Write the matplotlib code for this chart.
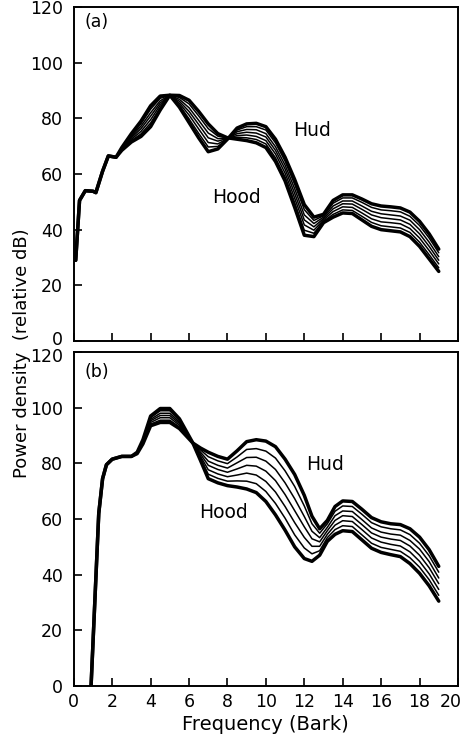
import matplotlib
matplotlib.use("Agg")
import matplotlib.pyplot as plt
from matplotlib.transforms import ScaledTranslation

# ---- panel (a): frequency grid (Bark) and the 7 spectra, Hud -> Hood ----
bark_a = [0.1, 0.3, 0.6, 1.0, 1.15, 1.5, 1.8, 2.2, 2.5, 3.0, 3.5, 4.0, 4.5, 5.0,
          5.5, 6.0, 6.5, 7.0, 7.5, 8.0, 8.5, 9.0, 9.5, 10.0, 10.5, 11.0, 11.5,
          12.0, 12.5, 13.0, 13.5, 14.0, 14.5, 15.0, 15.5, 16.0, 16.5, 17.0,
          17.5, 18.0, 18.5, 19.0]
hud_a = [29, 50.5, 54, 53.8, 53.3, 61, 66.5, 66, 68.5, 71.5, 73.5, 77, 83, 88.3,
         84, 78.5, 73, 68, 69, 72.5, 76.5, 78, 78.2, 77, 72.5, 66, 58,
         49, 44.5, 45.5, 50.5, 52.5, 52.5, 51, 49.3, 48.5, 48.2, 47.8,
         46.3, 43, 38.5, 33]
mid_a1 = [29, 50.5, 54, 53.8, 53.3, 61, 66.5, 66, 68.7, 72.0, 74.4, 78.3, 83.8, 88.3,
          84.7, 79.8, 74.6, 69.7, 69.9, 72.6, 75.8, 77.0, 77.0, 75.8, 71.2, 64.6, 56.3,
          47.2, 43.3, 45.0, 49.5, 51.4, 51.4, 49.8, 48.0, 47.1, 46.8, 46.4,
          44.8, 41.5, 37.0, 31.7]
mid_a2 = [29, 50.5, 54, 53.8, 53.3, 61, 66.5, 66, 68.8, 72.5, 75.3, 79.5, 84.7, 88.3,
          85.4, 81.2, 76.2, 71.3, 70.8, 72.7, 75.2, 76.0, 75.9, 74.5, 69.8, 63.2, 54.7,
          45.3, 42.2, 44.5, 48.5, 50.3, 50.3, 48.5, 46.6, 45.7, 45.3, 44.9,
          43.4, 40.0, 35.5, 30.3]
mid_a3 = [29, 50.5, 54, 53.8, 53.3, 61, 66.5, 66, 69.0, 73.0, 76.3, 80.8, 85.5, 88.3,
          86.1, 82.5, 77.8, 73.0, 71.8, 72.8, 74.5, 75.0, 74.7, 73.3, 68.5, 61.8, 53.0,
          43.5, 41.0, 44.0, 47.5, 49.3, 49.2, 47.3, 45.3, 44.3, 43.9, 43.5,
          41.9, 38.5, 34.0, 29.0]
mid_a4 = [29, 50.5, 54, 53.8, 53.3, 61, 66.5, 66, 69.2, 73.5, 77.2, 82.0, 86.3, 88.3,
          86.8, 83.8, 79.3, 74.7, 72.7, 72.8, 73.8, 74.0, 73.5, 72.0, 67.2, 60.3, 51.3,
          41.7, 39.8, 43.5, 46.5, 48.2, 48.0, 46.0, 43.9, 42.8, 42.5, 42.1,
          40.4, 37.0, 32.5, 27.7]
mid_a5 = [29, 50.5, 54, 53.8, 53.3, 61, 66.5, 66, 69.3, 74.0, 78.1, 83.3, 87.2, 88.3,
          87.5, 85.2, 80.9, 76.3, 73.6, 72.9, 73.2, 73.0, 72.4, 70.8, 65.8, 58.9, 49.7,
          39.8, 38.7, 43.0, 45.5, 47.1, 46.9, 44.8, 42.6, 41.4, 41.0, 40.6,
          39.0, 35.5, 31.0, 26.3]
hood_a = [29, 50.5, 54, 53.8, 53.3, 61, 66.5, 66, 69.5, 74.5, 79, 84.5, 88, 88.3,
          88.2, 86.5, 82.5, 78, 74.5, 73, 72.5, 72, 71.2, 69.5, 64.5, 57.5, 48,
          38, 37.5, 42.5, 44.5, 46, 45.8, 43.5, 41.2, 40, 39.6, 39.2,
          37.5, 34, 29.5, 25]

# ---- panel (b) ----
bark_b = [0.9, 1.3, 1.5, 1.7, 2.0, 2.5, 3.0, 3.3, 3.6, 4.0, 4.5, 5.0, 5.5, 6.2,
          6.6, 7.0, 7.5, 8.0, 8.5, 9.0, 9.5, 10.0, 10.5, 11.0, 11.5, 12.0, 12.4,
          12.8, 13.2, 13.6, 14.0, 14.5, 15.0, 15.5, 16.0, 16.5, 17.0, 17.5,
          18.0, 18.5, 19.0]
hud_b = [0, 62, 74.5, 79.5, 81.5, 82.5, 82.5, 84, 88.5, 97, 99.7, 99.7, 96, 87.3,
         85.5, 84, 82.5, 81.5, 84.5, 87.8, 88.5, 88.0, 86, 81.5, 76, 68.5, 61,
         56.5, 59.5, 64.5, 66.5, 66.3, 63.5, 60.5, 59, 58.3, 58, 56.5,
         53.5, 49, 43]
mid_b1 = [0, 62, 74.5, 79.5, 81.5, 82.5, 82.5, 83.9, 88.3, 96.4, 98.9, 98.9, 95.4, 87.3,
          84.8, 82.4, 80.9, 79.9, 82.3, 85.0, 85.3, 84.4, 81.9, 77.3, 71.7, 64.7, 58.3,
          54.9, 58.3, 62.8, 64.7, 64.5, 61.7, 58.7, 57.2, 56.5, 56.1, 54.4,
          51.3, 46.8, 40.9]
mid_b2 = [0, 62, 74.5, 79.5, 81.5, 82.5, 82.5, 83.8, 88.0, 95.8, 98.0, 98.0, 94.8, 87.3,
          84.0, 80.8, 79.3, 78.3, 80.2, 82.1, 82.2, 80.8, 77.8, 73.0, 67.3, 60.9, 55.6,
          53.3, 57.0, 61.2, 62.9, 62.7, 59.8, 56.8, 55.3, 54.6, 54.2, 52.3,
          49.2, 44.7, 38.8]
mid_b3 = [0, 62, 74.5, 79.5, 81.5, 82.5, 82.5, 83.8, 87.8, 95.3, 97.2, 97.2, 94.3, 87.3,
          83.3, 79.3, 77.8, 76.8, 78.0, 79.3, 79.0, 77.2, 73.8, 68.8, 63.0, 57.2, 52.9,
          51.8, 55.8, 59.5, 61.2, 60.9, 58.0, 55.0, 53.5, 52.8, 52.3, 50.3,
          47.0, 42.5, 36.8]
mid_b4 = [0, 62, 74.5, 79.5, 81.5, 82.5, 82.5, 83.7, 87.5, 94.7, 96.4, 96.4, 93.7, 87.3,
          82.5, 77.7, 76.2, 75.2, 75.8, 76.5, 75.8, 73.5, 69.7, 64.5, 58.7, 53.4, 50.2,
          50.2, 54.5, 57.8, 59.4, 59.1, 56.2, 53.2, 51.7, 50.9, 50.3, 48.2,
          44.8, 40.3, 34.7]
mid_b5 = [0, 62, 74.5, 79.5, 81.5, 82.5, 82.5, 83.6, 87.3, 94.1, 95.5, 95.5, 93.1, 87.3,
          81.8, 76.1, 74.6, 73.6, 73.7, 73.6, 72.7, 69.9, 65.6, 60.3, 54.3, 49.6, 47.5,
          48.6, 53.3, 56.2, 57.6, 57.3, 54.3, 51.3, 49.8, 49.1, 48.4, 46.1,
          42.7, 38.2, 32.6]
hood_b = [0, 62, 74.5, 79.5, 81.5, 82.5, 82.5, 83.5, 87, 93.5, 94.7, 94.7, 92.5, 87.3,
          81, 74.5, 73, 72, 71.5, 70.8, 69.5, 66.3, 61.5, 56, 50, 45.8, 44.8,
          47, 52, 54.5, 55.8, 55.5, 52.5, 49.5, 48, 47.2, 46.5, 44,
          40.5, 36, 30.5]

y_ticks = [0, 20, 40, 60, 80, 100, 120]
x_ticks = [0, 2, 4, 6, 8, 10, 12, 14, 16, 18, 20]

plt.rcParams['font.family'] = 'DejaVu Sans'
fig = plt.figure(figsize=(4.64, 7.36), dpi=100)
ax_a = fig.add_axes([0.159, 0.5367, 0.828, 0.4538])
ax_b = fig.add_axes([0.159, 0.0679, 0.828, 0.4538])

panels = [
    (ax_a, bark_a, [hud_a, mid_a1, mid_a2, mid_a3, mid_a4, mid_a5, hood_a], '(a)',
     (12.4, 75.8), (8.45, 51.7), 0.955),
    (ax_b, bark_b, [hud_b, mid_b1, mid_b2, mid_b3, mid_b4, mid_b5, hood_b], '(b)',
     (13.1, 79.5), (7.8, 62.2), 0.94),
]

for ax, bark, curves, tag, hud_pos, hood_pos, tag_y in panels:
    for i, c in enumerate(curves):
        outer = i == 0 or i == len(curves) - 1
        ax.plot(bark, c, color='black', lw=2.5 if outer else 1.1,
                solid_joinstyle='round', solid_capstyle='round',
                zorder=3 if outer else 2)
    ax.set_xlim(0, 20)
    ax.set_ylim(0, 120)
    ax.set_yticks(y_ticks)
    ax.set_xticks(x_ticks)
    ax.tick_params(direction='in', length=6, width=1.2, labelsize=12.5)
    ax.tick_params(axis='y', pad=8)
    ax.tick_params(axis='x', pad=5)
    for s in ax.spines.values():
        s.set_linewidth(1.4)
    ax.text(0.06, tag_y, tag, transform=ax.transAxes, fontsize=12.5,
            ha='center', va='center')
    ax.text(hud_pos[0], hud_pos[1], 'Hud', fontsize=13.5, ha='center', va='center')
    ax.text(hood_pos[0], hood_pos[1], 'Hood', fontsize=13.5, ha='center', va='center')

ax_a.tick_params(labelbottom=False)
ax_b.set_xlabel('Frequency (Bark)', fontsize=14, labelpad=3)
fig.text(0.047, 0.52, 'Power density  (relative dB)', rotation=90,
         fontsize=13, ha='center', va='center')

# keep the touching labels between the panels and at the right edge apart
fig.canvas.draw()
ax_a.get_yticklabels()[0].set_transform(
    ax_a.get_yticklabels()[0].get_transform() + ScaledTranslation(0, 2 / 72, fig.dpi_scale_trans))
ax_b.get_yticklabels()[-1].set_transform(
    ax_b.get_yticklabels()[-1].get_transform() + ScaledTranslation(0, -2 / 72, fig.dpi_scale_trans))
last = ax_b.get_xticklabels()[-1]
last.set_transform(last.get_transform() + ScaledTranslation(-5 / 72, 0, fig.dpi_scale_trans))

fig.savefig('out.png', dpi=100)
